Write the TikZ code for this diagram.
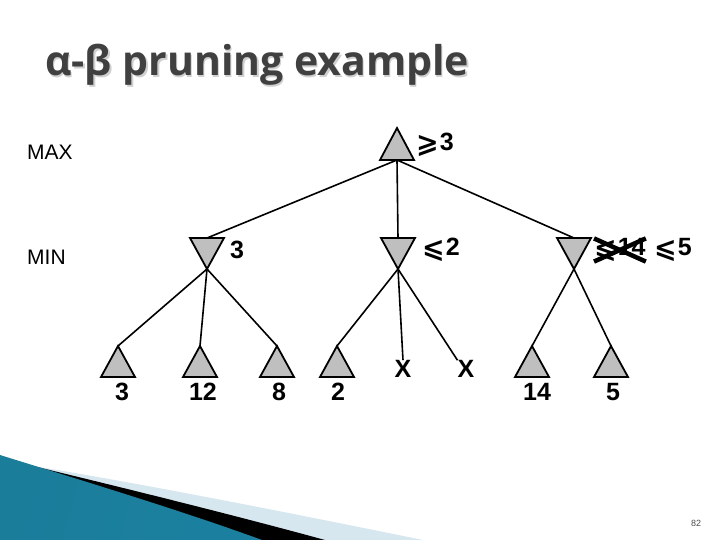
\documentclass[tikz,border=0pt]{standalone}
\usepackage{amssymb}
\usepackage{fontspec}
\setmainfont{Liberation Sans}
\newfontfamily\titlefont{Open Sans}
\newfontfamily\symfont{DejaVu Sans}
\newcommand{\relsym}[1]{\raisebox{-1.5pt}{\symfont\bfseries\fontsize{27}{27}\selectfont #1}\kern1pt}
\definecolor{trigray}{HTML}{BFBFBF}
\definecolor{titlegray}{HTML}{404040}
\definecolor{shadowgray}{HTML}{D0D0D0}
\definecolor{tealA}{HTML}{1A7D9A}
\definecolor{tealB}{HTML}{55BBDA}
\definecolor{tealC}{HTML}{1B80A0}
\definecolor{paleblue}{HTML}{D6E7EF}
\begin{document}
\begin{tikzpicture}[x=1pt,y=-1pt,
  tri/.style={draw=black, line width=1.8pt, fill=trigray, line join=miter},
  edge/.style={line width=1.6pt},
  val/.style={font=\fontsize{25}{25}\selectfont\bfseries, inner sep=0, anchor=center},
  lvl/.style={font=\fontsize{21}{21}\selectfont, anchor=west, inner sep=0},
  title/.style={font=\titlefont\bfseries\fontsize{41}{41}\selectfont, anchor=base west, inner sep=0}]
\useasboundingbox (0,0) rectangle (720,540);
% bottom decoration
\fill[paleblue] (33,466) .. controls (150,485) and (300,515) .. (423,540) -- (0,540) -- cycle;
\fill[black] (33,466) .. controls (120,487) and (230,514) .. (325,540) -- (0,540) -- cycle;
\shade[shading=axis, left color=tealA, middle color=tealB, right color=tealC, shading angle=75]
  (0,455) .. controls (80,480) and (180,510) .. (262,540) -- (0,540) -- cycle;
% title
\node[title, text=shadowgray] at (46.5,77.5) {α-β pruning example};
\node[title, text=titlegray] (title) at (45,76) {α-β pruning example};
% level labels
\node[lvl] (maxlbl) at (27,152) {MAX};
\node[lvl] (minlbl) at (27,257) {MIN};
% coordinates for tree nodes
\coordinate (R-apex) at (397,128);
\coordinate (R-base) at (397,160);
\coordinate (A-top) at (207,238); \coordinate (A-apex) at (207,269);
\coordinate (B-top) at (398,238); \coordinate (B-apex) at (398,269);
\coordinate (C-top) at (574,238); \coordinate (C-apex) at (574,269);
\coordinate (L1-apex) at (118,346);
\coordinate (L2-apex) at (200,346);
\coordinate (L3-apex) at (277,346);
\coordinate (L4-apex) at (337,346);
\coordinate (L5-apex) at (532,346);
\coordinate (L6-apex) at (611,346);
\node[val] (X1) at (403,369) {X};
\node[val] (X2) at (466,369) {X};
% edges
\draw[edge] (R-base) -- (A-top);
\draw[edge] (R-base) -- (B-top);
\draw[edge] (R-base) -- (C-top);
\draw[edge] (A-apex) -- (L1-apex);
\draw[edge] (A-apex) -- (L2-apex);
\draw[edge] (A-apex) -- (L3-apex);
\draw[edge] (B-apex) -- (L4-apex);
\draw[edge] (B-apex) -- (X1.north);
\draw[edge] (B-apex) -- (X2.north west);
\draw[edge] (C-apex) -- (L5-apex);
\draw[edge] (C-apex) -- (L6-apex);
% triangles
\draw[tri] (380,160) -- (R-apex) -- (414,160) -- cycle;
\draw[tri] (190,238) -- (A-apex) -- (224,238) -- cycle;
\draw[tri] (381,238) -- (B-apex) -- (415,238) -- cycle;
\draw[tri] (557,238) -- (C-apex) -- (591,238) -- cycle;
\draw[tri] (101,377) -- (L1-apex) -- (135,377) -- cycle;
\draw[tri] (183,377) -- (L2-apex) -- (217,377) -- cycle;
\draw[tri] (260,377) -- (L3-apex) -- (294,377) -- cycle;
\draw[tri] (320,377) -- (L4-apex) -- (354,377) -- cycle;
\draw[tri] (515,377) -- (L5-apex) -- (549,377) -- cycle;
\draw[tri] (594,377) -- (L6-apex) -- (628,377) -- cycle;
% value labels
\node[val, anchor=west] (rv) at (416,145) {\relsym{⩾}3};
\node[val, anchor=west] (av) at (230,250) {3};
\node[val, anchor=west] (bv) at (422,250) {\relsym{⩽}2};
\node[val, anchor=west] (cv1) at (594,250) {\relsym{⩽}14};
\node[val, anchor=west] (cv2) at (654,250) {\relsym{⩽}5};
\draw[line width=4.5pt] (cv1.north west) -- (cv1.south east);
\draw[line width=4.5pt] (cv1.south west) -- (cv1.north east);
\node[val] (l1) at (122,392) {3};
\node[val] (l2) at (203,392) {12};
\node[val] (l3) at (279,392) {8};
\node[val] (l4) at (338,392) {2};
\node[val] (l5) at (537,392) {14};
\node[val] (l6) at (613,392) {5};
% page number
\node[font=\fontsize{9}{9}\selectfont, text=black!70] (pg) at (696,523) {82};
\end{tikzpicture}
\end{document}
